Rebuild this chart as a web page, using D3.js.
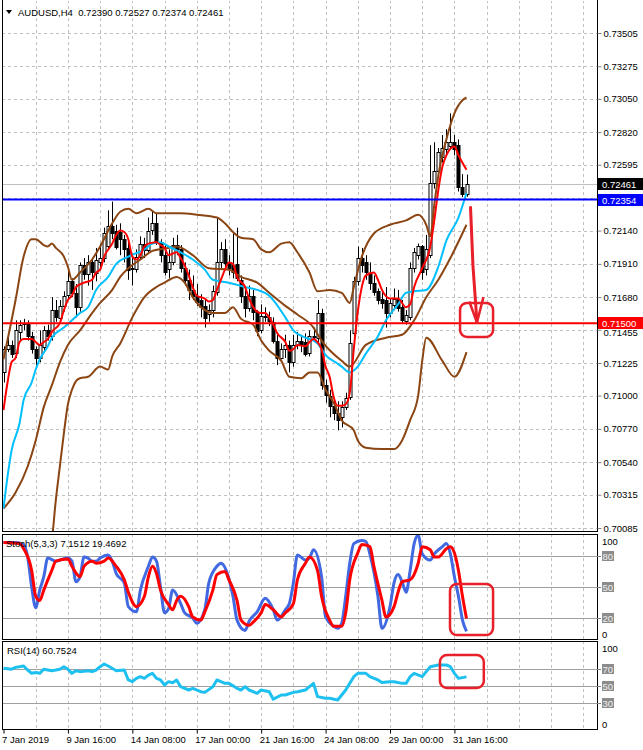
<!DOCTYPE html>
<html>
<head>
<meta charset="utf-8">
<script src="https://cdn.jsdelivr.net/npm/d3@7"></script>
<style>
body { margin: 0; background: #fff; }
text { font-family: "Liberation Sans", Arial, sans-serif; font-size: 9.5px; }
</style>
</head>
<body>
<svg id="chart" width="643" height="750"></svg>
<script>
// ---- data ----
var symbol = "AUDUSD,H4";

var open = [.7116,.7132,.7135,.7129,.7144,.7149,.7150,.7141,.7132,.7126,
  .7133,.7145,.7141,.7159,.7154,.7162,.7169,.7179,.7171,.7161,
  .7190,.7184,.7192,.7185,.7192,.7195,.7203,.7217,.7214,.7213,
  .7208,.7202,.7187,.7188,.7196,.7205,.7201,.7214,.7219,.7206,
  .7197,.7187,.7192,.7204,.7201,.7188,.7180,.7173,.7169,.7166,
  .7162,.7156,.7159,.7171,.7192,.7201,.7192,.7190,.7191,.7180,
  .7169,.7161,.7169,.7158,.7145,.7155,.7154,.7151,.7138,.7126,
  .7132,.7135,.7123,.7135,.7138,.7137,.7129,.7141,.7140,.7157,
  .7107,.7100,.7093,.7088,.7085,.7092,.7099,.7143,.7179,.7195,
  .7192,.7185,.7178,.7172,.7167,.7166,.7157,.7163,.7167,.7161,
  .7152,.7154,.7188,.7197,.7203,.7187,.7197,.7247,.7255,.7265,
  .7270,.7272,.7275,.7273,.7244,.72390];

var high = [.7134,.7140,.7138,.7152,.7152,.7153,.7152,.7144,.7134,.7145,
  .7148,.7149,.7168,.7166,.7166,.7172,.7187,.7181,.7177,.7192,
  .7195,.7197,.7195,.7202,.7205,.7216,.7228,.7234,.7218,.7219,
  .7211,.7208,.7195,.7201,.7210,.7209,.7223,.7228,.7226,.7208,
  .7204,.7201,.7209,.7211,.7204,.7192,.7187,.7183,.7177,.7170,
  .7166,.7163,.7176,.7223,.7206,.7208,.7197,.7212,.7216,.7183,
  .7173,.7176,.7173,.7159,.7163,.7161,.7158,.7154,.7142,.7136,
  .7142,.7138,.7142,.7144,.7142,.7143,.7145,.7147,.7166,.7160,
  .7111,.7104,.7098,.7096,.7096,.7102,.7145,.7182,.7203,.7202,
  .7197,.7192,.7183,.7174,.7172,.7175,.7167,.7174,.7173,.7166,
  .7159,.7192,.7202,.7205,.7204,.7211,.7273,.7275,.7271,.7280,
  .7284,.7295,.7280,.7277,.7253,.72527];

var low = [.7109,.7130,.7126,.7126,.7138,.7145,.7138,.7129,.7119,.7123,
  .7130,.7138,.7138,.7151,.7152,.7158,.7166,.7168,.7154,.7158,
  .7180,.7176,.7173,.7179,.7188,.7192,.7201,.7208,.7201,.7197,
  .7192,.7180,.7176,.7185,.7194,.7195,.7199,.7211,.7204,.7192,
  .7183,.7181,.7190,.7197,.7185,.7176,.7166,.7166,.7162,.7154,
  .7147,.7151,.7154,.7169,.7188,.7187,.7183,.7181,.7179,.7164,
  .7154,.7158,.7152,.7141,.7143,.7151,.7148,.7136,.7121,.7125,
  .7126,.7116,.7120,.7132,.7130,.7127,.7127,.7137,.7137,.7104,
  .7095,.7085,.7083,.7076,.7078,.7090,.7097,.7140,.7176,.7185,
  .7180,.7173,.7169,.7163,.7160,.7147,.7154,.7159,.7158,.7150,
  .7149,.7152,.7185,.7194,.7180,.7183,.7195,.7243,.7252,.7261,
  .7266,.7270,.7266,.7241,.7237,.72374];

var close = [.7132,.7135,.7129,.7145,.7149,.7150,.7141,.7132,.7126,.7135,
  .7145,.7141,.7159,.7154,.7162,.7169,.7179,.7171,.7161,.7190,
  .7184,.7192,.7185,.7194,.7195,.7212,.7217,.7212,.7203,.7208,
  .7201,.7187,.7188,.7196,.7205,.7201,.7214,.7219,.7206,.7197,
  .7185,.7192,.7204,.7201,.7188,.7180,.7173,.7169,.7165,.7161,
  .7154,.7159,.7172,.7192,.7201,.7191,.7188,.7185,.7181,.7169,
  .7161,.7169,.7158,.7145,.7155,.7154,.7151,.7138,.7126,.7132,
  .7135,.7123,.7135,.7138,.7135,.7129,.7141,.7140,.7157,.7107,
  .7100,.7093,.7088,.7083,.7092,.7098,.7136,.7179,.7195,.7190,
  .7185,.7178,.7172,.7166,.7164,.7157,.7164,.7167,.7161,.7152,
  .7156,.7188,.7199,.7203,.7185,.7201,.7247,.7255,.7268,.7271,
  .7275,.7275,.7270,.7244,.7239,.72461];

// indicator lines: [bar index, value]
var maFast = [[0,.7090],[1,.7109],[2,.7123],[3,.7126],[4,.7137],[5,.7139],[7,.7139],[8,.7137],[9,.7135],[10,.7137],
  [11,.7139],[12,.7144],[14,.7150],[15,.7159],[16,.7166],[17,.7169],[18,.7175],[20,.7178],[22,.7180],[23,.7185],
  [24,.7187],[25,.7196],[27,.7205],[28,.7211],[29,.7214],[30,.7213],[31,.7208],[32,.7196],[33,.7194],[34,.7197],
  [35,.7203],[36,.7205],[38,.7206],[39,.7204],[40,.7202],[41,.7197],[43,.7199],[44,.7195],[45,.7190],[46,.7183],
  [47,.7175],[48,.7169],[50,.7167],[51,.7165],[52,.7166],[53,.7173],[54,.7180],[55,.7187],[56,.7192],[57,.7191],
  [58,.7182],[60,.7175],[61,.7167],[63,.7158],[64,.7157],[65,.7157],[66,.7154],[67,.7149],[68,.7143],[70,.7137],
  [71,.7131],[72,.7132],[73,.7135],[75,.7134],[76,.7137],[77,.7139],[78,.7137],[79,.7132],[80,.7120],[81,.7113],
  [82,.7099],[83,.7093],[84,.7093],[85,.7094],[86,.7102],[87,.7132],[88,.7158],[89,.7175],[90,.7183],[92,.7185],
  [93,.7180],[94,.7173],[96,.7167],[98,.7167],[100,.7161],[101,.7163],[102,.7175],[104,.7188],[106,.7203],[107,.7221],
  [108,.7242],[109,.7258],[110,.7266],[112,.7272],[113,.7266],[115,.7256]];

var maSlow = [[0,.7022],[1,.7044],[2,.7062],[4,.7081],[5,.7097],[7,.7109],[8,.7118],[9,.7125],[11,.7134],[12,.7140],
  [15,.7147],[17,.7152],[19,.7157],[21,.7161],[23,.7173],[26,.7182],[28,.7191],[31,.7196],[35,.7201],[37,.7205],
  [39,.7206],[41,.7203],[44,.7199],[47,.7194],[50,.7187],[52,.7180],[56,.7178],[60,.7175],[63,.7173],[66,.7169],
  [67,.7166],[70,.7154],[72,.7145],[75,.7140],[77,.7138],[78,.7136],[80,.7128],[83,.7122],[84,.7120],[86,.7116],
  [88,.7120],[90,.7129],[93,.7141],[95,.7152],[98,.7163],[100,.7171],[102,.7172],[105,.7173],[108,.7189],[110,.7207],
  [113,.7223],[115,.7240]];

var bbUpper = [[0,.7125],[3,.7166],[5,.7196],[7,.7208],[8,.7208],[10,.7204],[11,.7203],[12,.7205],[13,.7202],[15,.7196],
  [16,.7189],[17,.7180],[19,.7185],[22,.7194],[24,.7203],[27,.7219],[29,.7227],[31,.7229],[33,.7226],[36,.7229],
  [38,.7226],[44,.7226],[48,.7225],[53,.7223],[55,.7219],[57,.7213],[59,.7209],[62,.7208],[64,.7201],[66,.7199],
  [69,.7205],[71,.7206],[73,.7199],[76,.7185],[78,.7172],[81,.7173],[84,.7171],[86,.7164],[87,.7175],[89,.7196],
  [92,.7212],[96,.7218],[100,.7221],[103,.7225],[105,.7218],[106,.7210],[107,.7232],[108,.7252],[110,.7277],[112,.7295],
  [114,.7304],[115,.7306]];

var bbMiddle = [[0,.7022],[3,.7033],[6,.7051],[8,.7069],[10,.7092],[12,.7107],[14,.7123],[16,.7135],[19,.7145],[22,.7157],
  [24,.7164],[27,.7173],[29,.7182],[31,.7188],[34,.7194],[37,.7200],[41,.7202],[43,.7203],[47,.7197],[51,.7188],
  [56,.7187],[59,.7182],[63,.7178],[66,.7171],[70,.7162],[73,.7156],[77,.7147],[79,.7138],[84,.7124],[86,.7120],
  [90,.7135],[95,.7140],[99,.7142],[102,.7152],[105,.7168],[108,.7180],[111,.7195],[115,.7218]];

var bbLower = [[11,.6980],[12,.6999],[13,.7028],[14,.7051],[15,.7074],[16,.7094],[17,.7104],[18,.7110],[19,.7112],[21,.7113],
  [24,.7120],[26,.7118],[27,.7127],[29,.7136],[32,.7154],[35,.7168],[38,.7175],[40,.7178],[43,.7182],[45,.7178],
  [47,.7168],[50,.7159],[52,.7157],[55,.7157],[57,.7161],[59,.7153],[62,.7149],[64,.7138],[66,.7131],[69,.7124],
  [71,.7113],[74,.7112],[76,.7116],[78,.7116],[80,.7104],[82,.7095],[84,.7083],[87,.7076],[88,.7069],[90,.7064],
  [94,.7063],[97,.7063],[99,.7069],[101,.7083],[103,.7100],[104,.7124],[105,.7140],[109,.7124],[112,.7113],[115,.7130]];

var stochK = [[0,93],[3,93],[5,91],[6,79],[7,50],[8,30],[9,47],[10,60],[11,78],[13,75],[14,76],[16,78],[17,75],[18,55],
  [19,60],[20,79],[21,78],[22,75],[23,75],[24,78],[26,81],[27,75],[28,63],[30,54],[31,31],[33,26],[34,47],[36,70],
  [37,79],[38,75],[39,50],[40,25],[41,29],[42,47],[44,34],[45,25],[47,20],[48,15],[50,28],[51,54],[53,70],[54,73],
  [56,58],[57,41],[58,18],[60,8],[61,17],[63,26],[65,39],[67,28],[68,18],[70,28],[71,34],[72,54],[73,81],[75,76],
  [76,78],[77,86],[79,60],[80,21],[82,12],[83,10],[84,15],[85,41],[86,73],[87,92],[89,95],[90,94],[91,82],[93,41],
  [94,10],[96,31],[97,54],[98,62],[99,55],[100,45],[101,66],[102,92],[103,100],[104,82],[106,76],[107,82],[109,89],
  [110,92],[111,82],[112,60],[113,41],[114,18],[115,7.1512]];

var stochD = [[0,93],[4,92],[5,87],[7,66],[8,41],[9,37],[10,47],[12,66],[13,75],[16,77],[17,70],[19,60],[20,70],[22,75],
  [23,73],[25,75],[26,78],[28,70],[30,57],[31,45],[33,31],[35,41],[36,60],[37,70],[38,63],[39,47],[41,33],[42,28],
  [43,37],[44,41],[46,31],[47,21],[49,18],[50,26],[52,47],[53,62],[55,65],[56,57],[58,37],[59,18],[61,13],[62,16],
  [64,25],[65,33],[67,28],[69,21],[70,25],[72,34],[73,57],[75,73],[76,79],[78,66],[79,41],[81,18],[82,12],[84,12],
  [85,25],[86,57],[88,83],[89,91],[91,89],[92,70],[94,37],[95,21],[97,31],[98,45],[99,55],[101,57],[103,73],[104,89],
  [106,86],[107,79],[108,79],[110,87],[111,89],[112,83],[113,66],[114,41],[115,19.4692]];

var rsi = [[0,70.8],[2,69.8],[3,71.9],[5,73.5],[6,68.8],[7,64.9],[8,65.9],[9,64.9],[10,69.8],[12,68],[13,68.8],[14,69.8],
  [15,72.7],[16,69.8],[17,64.9],[18,68],[19,66.9],[21,68],[22,66.9],[23,68.8],[24,72.7],[25,75.9],[26,73.5],[27,70.8],
  [28,68],[30,68.8],[31,57.1],[32,55.1],[33,59],[34,61],[35,59],[36,62.9],[37,64.9],[38,59],[39,57.1],[40,51.2],
  [41,55.1],[42,53.9],[43,57.1],[44,49.2],[46,45.3],[47,47.3],[49,43.3],[50,42.5],[52,49.2],[53,57.1],[55,53.1],
  [56,53.1],[58,47.3],[59,45.3],[60,49.2],[61,45.3],[63,41.4],[64,45.3],[66,43.3],[67,34.5],[69,39.4],[70,39.4],
  [72,42.5],[73,43.3],[75,45.3],[76,49.2],[77,53.1],[78,37.5],[80,35.5],[81,35.5],[83,33.5],[84,39.4],[85,45.3],
  [87,61],[88,64.9],[90,64.9],[91,61],[93,57.1],[94,54],[96,55.1],[97,55.1],[99,53.1],[100,53.1],[101,61],[102,64.9],
  [104,61],[105,66.9],[106,72.7],[108,74.7],[110,74.7],[111,72.7],[112,64.9],[113,59],[115,60.7524]];

var priceTicks = [0.73505,0.73275,0.73050,0.72820,0.72595,0.72365,0.72140,0.71910,
  0.71680,0.71455,0.71225,0.71000,0.70770,0.70540,0.70315,0.70085];
var xTickBars = [0,16,32,48,64,80,96,112];
var xTickLabels = ["7 Jan 2019","9 Jan 16:00","14 Jan 08:00","17 Jan 00:00",
  "21 Jan 16:00","24 Jan 08:00","29 Jan 00:00","31 Jan 16:00"];

var bidPrice = 0.72461;
var resistance = 0.72354;
var support = 0.71500;
var stochLevels = [80,50,20];
var rsiLevels = [70,50,30];

// ---- layout ----
var left = 2, right = 597;
var mainP = {top: 0, bottom: 531};
var stochP = {top: 534, bottom: 639};
var rsiP = {top: 641, bottom: 729};

var x = d3.scaleLinear().domain([0, 115]).range([3.5, 466.5]);
var y = d3.scaleLinear().domain([0.70085, 0.73505]).range([528, 33]);
var yS = d3.scaleLinear().domain([0, 100]).range([638.7, 535.3]);
var yR = d3.scaleLinear().domain([0, 100]).range([728.5, 643.5]);

var svg = d3.select("#chart");
var px = function (v) { return Math.round(v) + 0.5; };

// clip paths for the three panes
var defs = svg.append("defs");
[["clipMain", mainP], ["clipStoch", stochP], ["clipRsi", rsiP]].forEach(function (c) {
  defs.append("clipPath").attr("id", c[0]).append("rect")
    .attr("x", left + 1).attr("y", c[1].top + 1)
    .attr("width", right - left - 1).attr("height", c[1].bottom - c[1].top - 1);
});

var gMain = svg.append("g").attr("clip-path", "url(#clipMain)");
var gStoch = svg.append("g").attr("clip-path", "url(#clipStoch)");
var gRsi = svg.append("g").attr("clip-path", "url(#clipRsi)");

// vertical dashed grid (every 8 bars) in every pane
var gridBars = d3.range(8, 150, 8).filter(function (b) { return x(b) < right - 2; });
[[gMain, mainP], [gStoch, stochP], [gRsi, rsiP]].forEach(function (p) {
  p[0].selectAll(".vgrid").data(gridBars).enter().append("line")
    .attr("x1", function (d) { return px(x(d)); }).attr("x2", function (d) { return px(x(d)); })
    .attr("y1", p[1].top).attr("y2", p[1].bottom)
    .attr("stroke", "#c0c0c0").attr("stroke-dasharray", "3,3");
});

// horizontal dashed grid in the price pane
gMain.selectAll(".hgrid").data(priceTicks).enter().append("line")
  .attr("x1", left).attr("x2", right)
  .attr("y1", function (d) { return px(y(d)); }).attr("y2", function (d) { return px(y(d)); })
  .attr("stroke", "#c0c0c0").attr("stroke-dasharray", "3,3");

// bid line
gMain.append("line").attr("x1", left).attr("x2", right)
  .attr("y1", px(y(bidPrice))).attr("y2", px(y(bidPrice)))
  .attr("stroke", "#c0c0c0");

// candles
var bars = d3.range(close.length);
gMain.selectAll(".wick").data(bars).enter().append("line")
  .attr("x1", function (i) { return px(x(i)); }).attr("x2", function (i) { return px(x(i)); })
  .attr("y1", function (i) { return y(high[i]); }).attr("y2", function (i) { return y(low[i]); })
  .attr("stroke", "#000").attr("stroke-width", 1);

gMain.selectAll(".body").data(bars).enter().append("rect")
  .attr("x", function (i) { return px(x(i)) - 1.5; })
  .attr("width", 3)
  .attr("y", function (i) { return Math.round(y(Math.max(open[i], close[i]))) + 0.5; })
  .attr("height", function (i) { return Math.max(1, Math.round(Math.abs(y(open[i]) - y(close[i])))); })
  .attr("fill", function (i) { return close[i] >= open[i] ? "#fff" : "#000"; })
  .attr("stroke", "#000");

// indicator lines
var priceLine = d3.line()
  .x(function (d) { return x(d[0]); })
  .y(function (d) { return y(d[1]); })
  .curve(d3.curveMonotoneX);

[[bbUpper, "#8b4513"], [bbMiddle, "#8b4513"], [bbLower, "#8b4513"],
 [maSlow, "#00bfff"], [maFast, "#ff0000"]].forEach(function (s) {
  gMain.append("path").datum(s[0])
    .attr("d", priceLine)
    .attr("fill", "none").attr("stroke", s[1]).attr("stroke-width", 2)
    .attr("stroke-linejoin", "round");
});

// horizontal levels
gMain.append("line").attr("x1", left).attr("x2", right)
  .attr("y1", y(resistance)).attr("y2", y(resistance))
  .attr("stroke", "#0000ff").attr("stroke-width", 2);
gMain.append("line").attr("x1", left).attr("x2", right)
  .attr("y1", y(support)).attr("y2", y(support))
  .attr("stroke", "#ff0000").attr("stroke-width", 2);

// hand drawn arrow and boxes
var annot = "#e8202a";
gMain.append("path")
  .attr("d", "M" + x(116) + "," + y(0.7230) + " L" + x(116.6) + "," + y(0.7190) +
    " L" + x(117.6) + "," + y(0.71505))
  .attr("fill", "none").attr("stroke", annot).attr("stroke-width", 3).attr("stroke-linecap", "round");
gMain.append("path")
  .attr("d", "M" + x(115.7) + "," + y(0.7165) + " L" + x(117.6) + "," + y(0.71505) +
    " L" + x(119.2) + "," + y(0.7168))
  .attr("fill", "none").attr("stroke", annot).attr("stroke-width", 2.5).attr("stroke-linejoin", "round");

var box = function (g, x0, x1, y0, y1) {
  g.append("rect")
    .attr("x", x0).attr("y", y0).attr("width", x1 - x0).attr("height", y1 - y0)
    .attr("rx", 7).attr("ry", 7)
    .attr("fill", "none").attr("stroke", annot).attr("stroke-width", 2.5);
};
box(svg, x(113.4), x(121.6), y(0.71640), y(0.71405));

// stochastic pane
stochLevels.forEach(function (v) {
  gStoch.append("line").attr("x1", left).attr("x2", right)
    .attr("y1", px(yS(v))).attr("y2", px(yS(v))).attr("stroke", "#a0a0a0");
});
var stochLine = d3.line()
  .x(function (d) { return x(d[0]); })
  .y(function (d) { return yS(d[1]); })
  .curve(d3.curveMonotoneX);
gStoch.append("path").datum(stochK).attr("d", stochLine)
  .attr("fill", "none").attr("stroke", "#4169e1").attr("stroke-width", 3).attr("stroke-linejoin", "round");
gStoch.append("path").datum(stochD).attr("d", stochLine)
  .attr("fill", "none").attr("stroke", "#ff0000").attr("stroke-width", 3).attr("stroke-linejoin", "round");
box(svg, x(110.9), x(121.6), yS(53), yS(3.5));

// rsi pane
rsiLevels.forEach(function (v) {
  gRsi.append("line").attr("x1", left).attr("x2", right)
    .attr("y1", px(yR(v))).attr("y2", px(yR(v))).attr("stroke", "#a0a0a0");
});
var rsiLine = d3.line()
  .x(function (d) { return x(d[0]); })
  .y(function (d) { return yR(d[1]); });
gRsi.append("path").datum(rsi).attr("d", rsiLine)
  .attr("fill", "none").attr("stroke", "#1ec0f0").attr("stroke-width", 3).attr("stroke-linejoin", "round");
box(svg, x(108.4), x(119.3), yR(86.5), yR(47.6));

// pane frames
[mainP, stochP, rsiP].forEach(function (p, k) {
  svg.append("line").attr("x1", left + 0.5).attr("x2", left + 0.5)
    .attr("y1", p.top).attr("y2", p.bottom + 0.5).attr("stroke", "#000");
  svg.append("line").attr("x1", right + 0.5).attr("x2", right + 0.5)
    .attr("y1", p.top).attr("y2", p.bottom + 0.5).attr("stroke", "#000");
  svg.append("line").attr("x1", left).attr("x2", right + 1)
    .attr("y1", p.bottom + 0.5).attr("y2", p.bottom + 0.5).attr("stroke", "#000");
  if (k > 0) {
    svg.append("line").attr("x1", left).attr("x2", right + 1)
      .attr("y1", p.top + 0.5).attr("y2", p.top + 0.5).attr("stroke", "#000");
  }
});

// price axis (the label under the blue marker is hidden, as in the terminal)
var hiddenTick = 0.72365;
var yAxis = d3.axisRight(y).tickValues(priceTicks).tickSize(4).tickPadding(2)
  .tickFormat(function (d) { return d === hiddenTick ? "" : d3.format(".5f")(d); });
var gy = svg.append("g").attr("transform", "translate(" + (right + 0.5) + ",0)").call(yAxis);
gy.select(".domain").remove();
gy.selectAll("line").attr("stroke", "#808080");
gy.selectAll("text").attr("fill", "#000").style("font-size", "9.5px")
  .style("font-family", "Liberation Sans, Arial, sans-serif")
  .attr("dy", function (d) { return d === 0.71455 ? "0.62em" : "0.32em"; });

// price markers
var marker = function (v, bg) {
  var g = svg.append("g");
  g.append("rect").attr("x", right + 1).attr("y", Math.round(y(v)) - 6)
    .attr("width", 643 - right).attr("height", 12).attr("fill", bg);
  g.append("text").attr("x", right + 5).attr("y", Math.round(y(v)) + 3.5)
    .attr("fill", "#fff").text(d3.format(".5f")(v));
};
marker(bidPrice, "#000");
marker(resistance, "#0000ff");
marker(support, "#ff0000");

// sub-pane axis labels
var paneLabels = function (scale, pane, plain, levels) {
  plain.forEach(function (v) {
    var yy = Math.max(pane.top + 7, Math.min(pane.bottom - 5, scale(v)));
    svg.append("text").attr("x", right + 5).attr("y", yy + 3.5).attr("fill", "#000").text(v);
  });
  levels.forEach(function (v) {
    svg.append("line").attr("x1", right).attr("x2", right + 4)
      .attr("y1", px(scale(v))).attr("y2", px(scale(v))).attr("stroke", "#808080");
    svg.append("rect").attr("x", right + 5).attr("y", Math.round(scale(v)) - 5)
      .attr("width", 12).attr("height", 10).attr("fill", "#8c8c8c");
    svg.append("text").attr("x", right + 5.5).attr("y", Math.round(scale(v)) + 3.5)
      .attr("fill", "#f0f0f0").text(v);
  });
};
paneLabels(yS, stochP, [100, 0], stochLevels);
paneLabels(yR, rsiP, [100, 0], rsiLevels);

// time axis
var xAxis = d3.axisBottom(x).tickValues(xTickBars).tickSize(4).tickPadding(3)
  .tickFormat(function (d, i) { return xTickLabels[i]; });
var gx = svg.append("g").attr("transform", "translate(0," + (rsiP.bottom + 0.5) + ")").call(xAxis);
gx.select(".domain").remove();
gx.selectAll("line").attr("stroke", "#000");
gx.selectAll("text").attr("fill", "#000").attr("text-anchor", "start").attr("dx", -2)
  .style("font-size", "9.5px").style("font-family", "Liberation Sans, Arial, sans-serif");

// legends
svg.append("path").attr("d", "M6,10 L12,10 L9,14 Z").attr("fill", "#000");
svg.append("text").attr("x", 18).attr("y", 15.5).style("white-space", "pre").attr("fill", "#000")
  .text(symbol + "  " + [open[115], high[115], low[115], close[115]].map(d3.format(".5f")).join(" "));
svg.append("text").attr("x", 6).attr("y", 547).attr("fill", "#000")
  .text("Stoch(5,3,3) " + d3.format(".4f")(stochK[stochK.length - 1][1]) + " " +
    d3.format(".4f")(stochD[stochD.length - 1][1]));
svg.append("text").attr("x", 7).attr("y", 654).attr("fill", "#000")
  .text("RSI(14) " + d3.format(".4f")(rsi[rsi.length - 1][1]));
</script>
</body>
</html>
